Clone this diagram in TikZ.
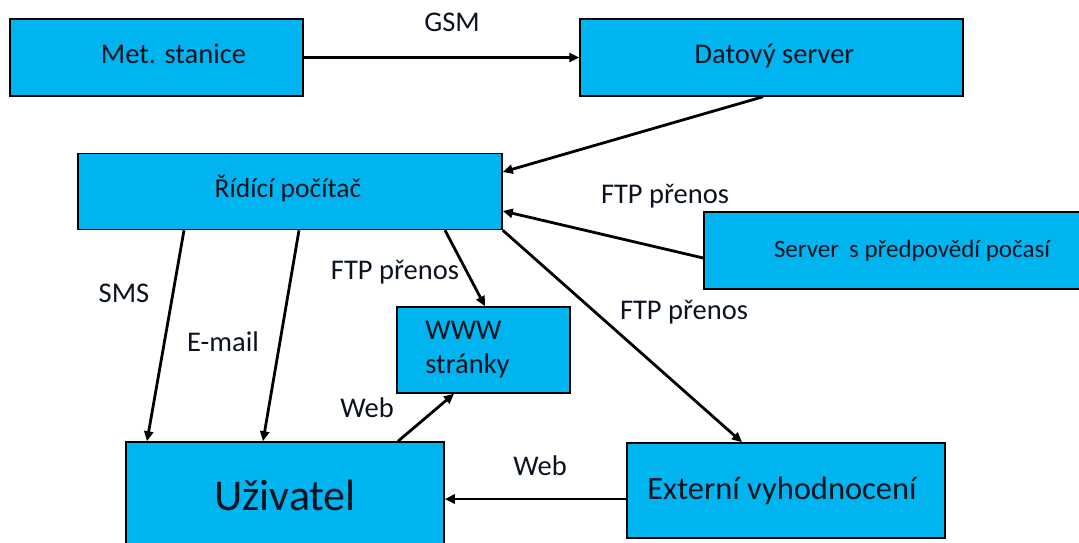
\documentclass[tikz,border=0pt]{standalone}
\usepackage{fontspec}
\setmainfont{Carlito}
\usetikzlibrary{arrows.meta,calc}
\definecolor{boxblue}{HTML}{00B4F0}
\definecolor{txt}{HTML}{0A1420}
\tikzset{
  box/.style={draw=black, line width=1.5pt, fill=boxblue, inner sep=0pt, text=txt, font=\fontsize{28.5}{34}\selectfont},
  conn/.style={line width=2.8pt, -{Triangle[length=10pt,width=9pt]}},
  lbl/.style={font=\fontsize{28.5}{34}\selectfont, inner sep=0pt, text=txt}
}
\begin{document}
\begin{tikzpicture}[x=1pt,y=-1pt]
\clip (0,0) rectangle (1079,542);
\fill[white] (0,0) rectangle (1079,542);
\node[box, minimum width=293pt, minimum height=77pt] (met) at (156.5,57.5) {\hspace*{34pt}\raisebox{7pt}{Met. stanice}};
\node[box, minimum width=383pt, minimum height=77pt] (ds) at (771.5,57.5) {\hspace*{6pt}\raisebox{7pt}{Datový server}};
\node[box, minimum width=424pt, minimum height=76pt] (rid) at (290,191.5) {\fontsize{27.5}{33}\selectfont\raisebox{11pt}{Řídící počítač}\hspace*{4pt}};
\node[box, minimum width=386pt, minimum height=77pt] (srv) at (897,250.5) {\fontsize{25}{30}\selectfont\hspace*{30pt}Server\hspace{10pt}s~předpovědí počasí\hspace*{0pt}\hfill};
\node[box, minimum width=173pt, minimum height=86pt, align=left] (www) at (483.5,350) {\hspace*{-32pt}WWW\\[0pt]\hspace*{-32pt}stránky};
\node[box, minimum width=318pt, minimum height=110pt] (uz) at (285,497) {\fontsize{44}{50}\selectfont\raisebox{4pt}{Uživatel}};
\node[box, minimum width=318pt, minimum height=95pt] (ext) at (786,490.5) {\fontsize{32.5}{38}\selectfont Externí vyhodnocení\hspace*{8pt}};

\node[lbl] (gsm) at (452,22) {GSM};
\node[lbl] (ftp1) at (665,196) {FTP přenos};
\node[lbl] (sms) at (124,293) {SMS};
\node[lbl] (mail) at (223,342) {E-mail};
\node[lbl] (ftp2) at (395,272) {FTP přenos};
\node[lbl] (ftp3) at (684,312) {FTP přenos};
\node[lbl] (web1) at (367,408) {Web};
\node[lbl] (web2) at (540,466) {Web};

\draw[conn] (met.east) -- (ds.west);
\draw[conn] ($(ds.south west)!0.478!(ds.south east)$) -- ([yshift=19.5pt]rid.east);
\draw[conn] ([yshift=-7.5pt]srv.west) -- ([yshift=-19.5pt]rid.east);
\draw[conn] ([xshift=-106pt]rid.south) -- ([xshift=-138pt]uz.north);
\draw[conn] ([xshift=9pt]rid.south) -- ([xshift=-22pt]uz.north);
\draw[conn] ([xshift=155pt]rid.south) -- ([xshift=1.5pt]www.north);
\draw[conn] (rid.south east) -- ([xshift=-44pt]ext.north);
\draw[conn] ([xshift=113pt]uz.north) -- ([xshift=-29.5pt]www.south);
\draw[conn] ([yshift=-8.5pt]ext.west) -- ([yshift=-8.5pt]ext.west -| uz.east);
\end{tikzpicture}
\end{document}
